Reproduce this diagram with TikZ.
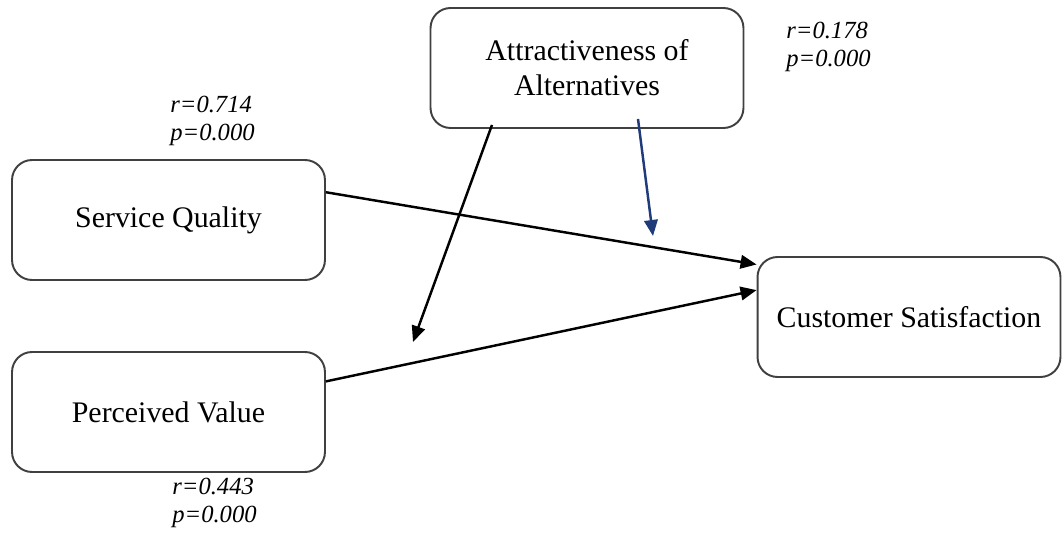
\documentclass[tikz,border=0pt]{standalone}
\usepackage{fontspec}
\setmainfont{Liberation Serif}
\usetikzlibrary{arrows.meta,calc}

\definecolor{boxline}{HTML}{404040}
\definecolor{navy}{HTML}{1F3B7A}

\tikzset{
  construct/.style={draw=boxline, line width=1.1pt, rounded corners=0.4cm,
    minimum width=6.26cm, minimum height=2.4cm, align=center,
    font=\fontsize{17}{20}\selectfont},
  stat/.style={align=left, anchor=north west, inner sep=0pt,
    font=\fontsize{14}{16}\selectfont\itshape},
  link/.style={-{Triangle[length=0.32cm,width=0.27cm]}, line width=1.4pt},
}

\begin{document}
\begin{tikzpicture}[x=0.02cm, y=-0.02cm]
        % page frame
        \useasboundingbox (0,0) rectangle (1063,533);

        % Constructs
        \node[construct] (aa) at (587,68) {Attractiveness of\\Alternatives};
        \node[construct] (sq) at (168.5,220) {Service Quality};
        \node[construct] (pv) at (168.5,412) {Perceived Value};
        \node[construct, minimum width=6.06cm] (cs) at (909,317) {Customer Satisfaction};

        % Correlations
        \node[stat] (sqstat) at (170,96) {r=0.714\\p=0.000};
        \node[stat] (aastat) at (786,22) {r=0.178\\p=0.000};
        \node[stat] (pvstat) at (172,478) {r=0.443\\p=0.000};

        % Free ends of the moderating arrows
        \coordinate (pvtgt) at (413,342);
        \coordinate (linktgt) at (653,236);

        % Arrows
        \draw[link] (sq.10) -- (cs.161); % SQ to CS
        \draw[link] (pv.11) -- (cs.170); % PV to CS
        \draw[link] ($(aa.south)+(-95,-4)$) -- (pvtgt); % AA down to PV
        \draw[link, navy] ($(aa.south)+(51,-10)$) -- (linktgt); % AA onto the link
\end{tikzpicture}
\end{document}
